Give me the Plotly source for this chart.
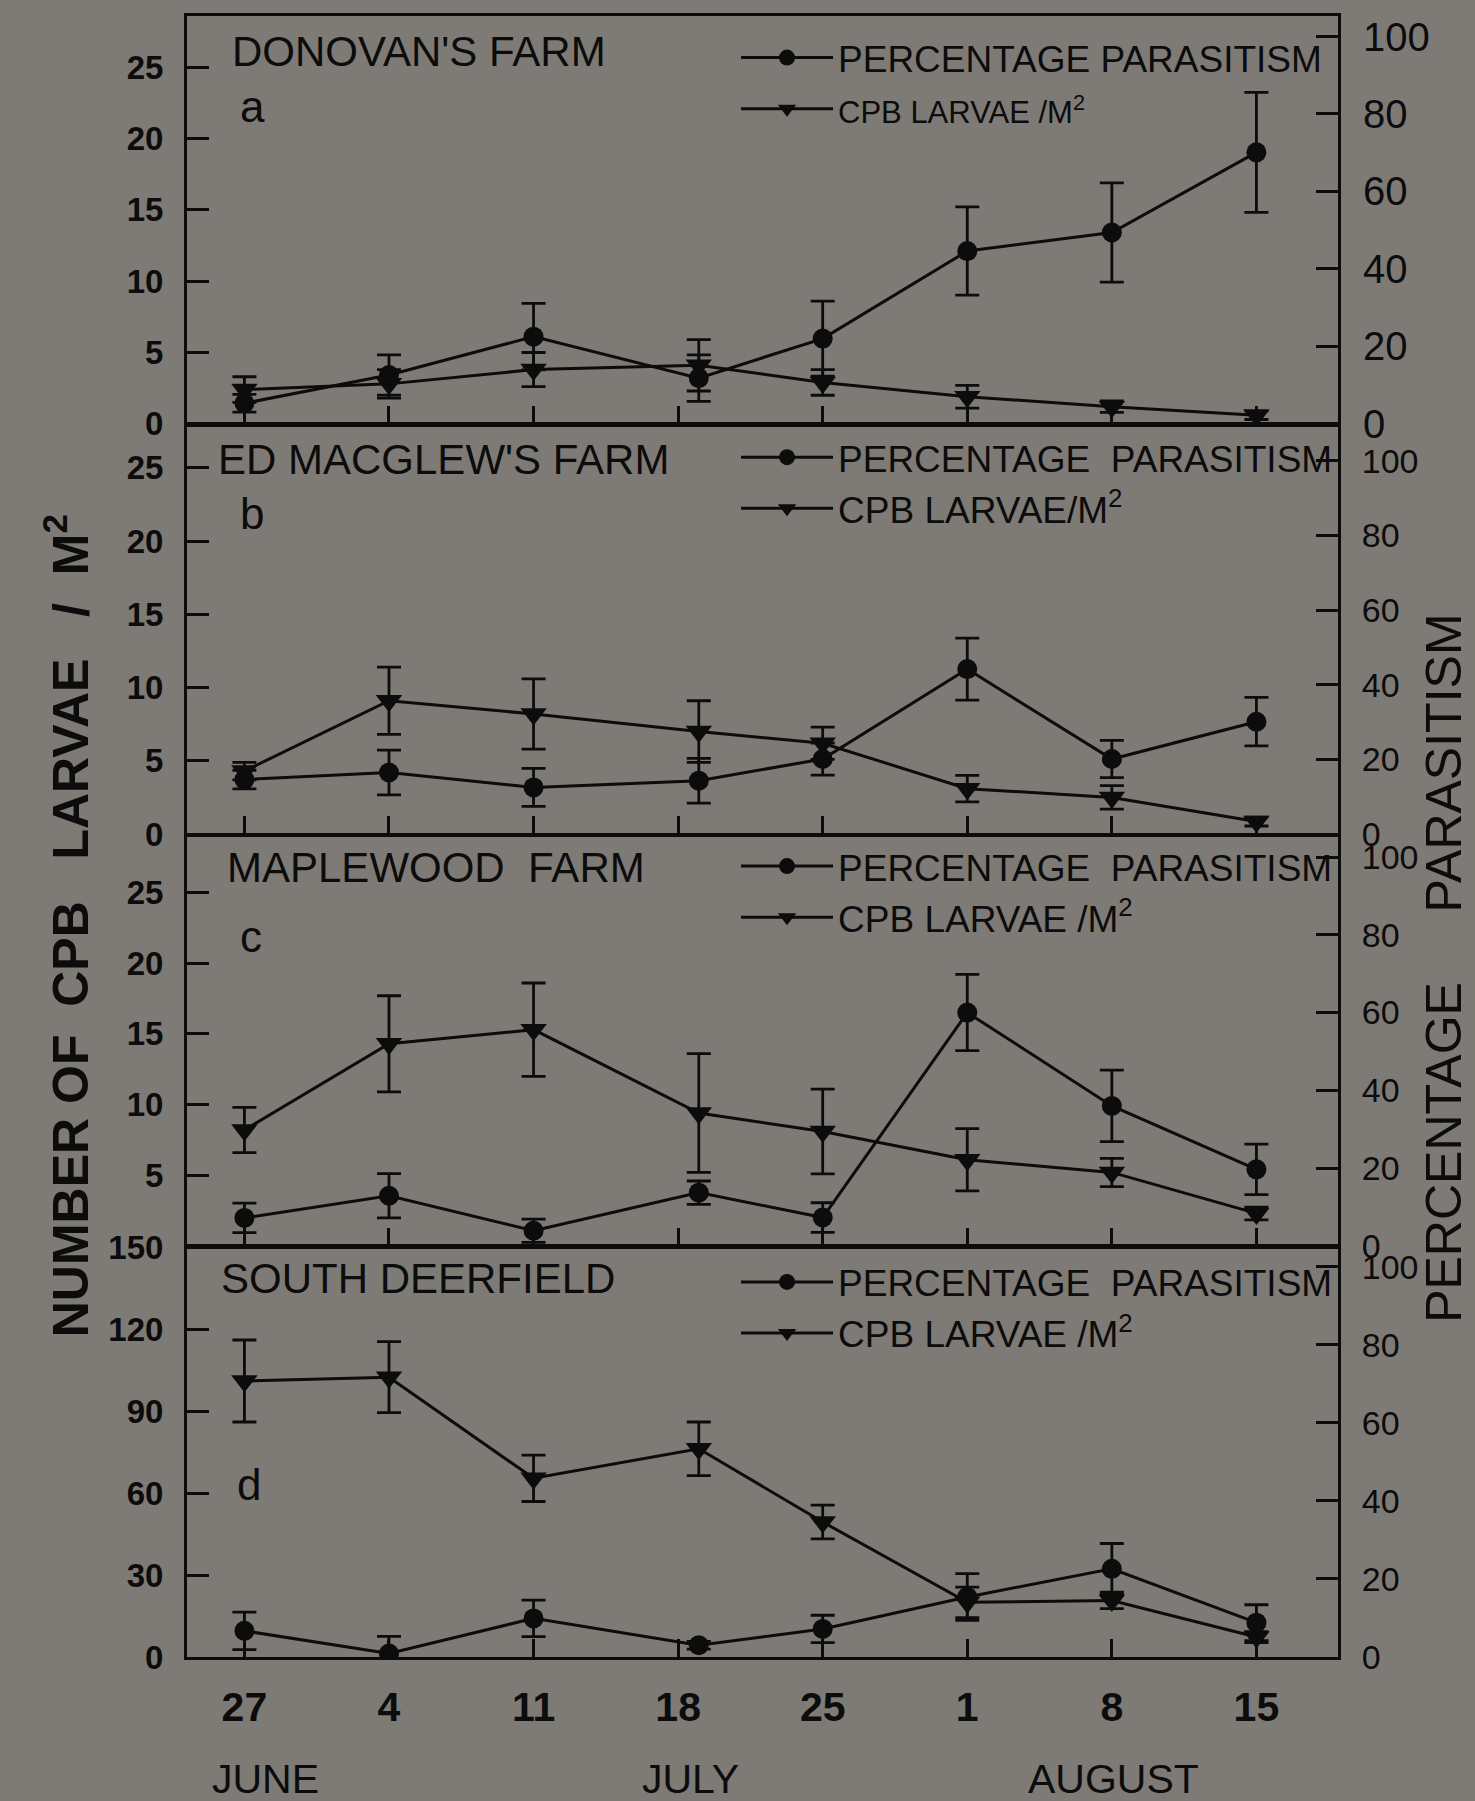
import plotly.graph_objects as go

# ---------------- data ----------------
sample_days = [0, 7, 14, 22, 28, 35, 42, 49]          # days after 27 June
tick_days = [0, 7, 14, 21, 28, 35, 42, 49]
tick_labels = ["27", "4", "11", "18", "25", "1", "8", "15"]
months = ["JUNE", "JULY", "AUGUST"]
month_days = [1.0, 21.6, 42.1]

farms = ["DONOVAN'S FARM", "ED MACGLEW'S FARM", "MAPLEWOOD\u00a0\u00a0FARM", "SOUTH DEERFIELD"]
letters = ["a", "b", "c", "d"]

# percentage parasitism (right axis)
a_pct = [5.3, 12.6, 22.5, 11.8, 22.0, 44.6, 49.4, 70.1]
a_pct_err = [2.3, 5.2, 8.6, 6.0, 9.7, 11.4, 12.8, 15.5]
b_pct = [14.6, 16.5, 12.5, 14.3, 20.1, 44.2, 20.1, 30.1]
b_pct_err = [2.5, 6.0, 5.1, 6.0, 4.3, 8.3, 5.0, 6.5]
c_pct = [7.2, 12.9, 3.9, 13.7, 7.3, 60.0, 36.0, 19.7]
c_pct_err = [3.8, 5.7, 3.0, 3.0, 3.8, 9.8, 9.2, 6.5]
d_pct = [6.7, 0.9, 9.9, 3.0, 7.2, 15.4, 22.6, 8.8]
d_pct_err = [4.8, 4.4, 4.7, 1.0, 3.5, 6.0, 6.5, 4.6]

# CPB larvae per m2 (left axis)
a_larvae = [2.4, 2.8, 3.8, 4.1, 2.9, 1.9, 1.2, 0.6]
a_larvae_err = [0.9, 1.0, 1.2, 1.8, 0.9, 0.8, 0.4, 0.3]
b_larvae = [4.3, 9.1, 8.2, 7.0, 6.2, 3.1, 2.5, 0.85]
b_larvae_err = [0.6, 2.3, 2.4, 2.1, 1.1, 0.9, 0.8, 0.3]
c_larvae = [8.2, 14.3, 15.3, 9.4, 8.1, 6.1, 5.2, 2.3]
c_larvae_err = [1.6, 3.4, 3.3, 4.2, 3.0, 2.2, 1.0, 0.45]
d_larvae = [101.0, 102.4, 65.4, 76.2, 49.4, 20.0, 20.7, 7.3]
d_larvae_err = [15.0, 13.0, 8.5, 9.8, 6.2, 5.6, 3.0, 2.0]

left_ranges = [[0, 28.6], [0, 27.9], [0, 29.0], [0, 150]]
left_ticks = [[0, 5, 10, 15, 20, 25], [0, 5, 10, 15, 20, 25], [5, 10, 15, 20, 25],
              [0, 30, 60, 90, 120, 150]]
right_ranges = [[0, 105.3], [0, 109.5], [0, 105.4], [0, 105.1]]
right_ticks = [0, 20, 40, 60, 80, 100]

pct_names = ["PERCENTAGE PARASITISM", "PERCENTAGE\u00a0\u00a0PARASITISM",
             "PERCENTAGE\u00a0\u00a0PARASITISM", "PERCENTAGE\u00a0\u00a0PARASITISM"]
larvae_names = ["<span style='font-size:31px'>CPB LARVAE /M<sup>2</sup></span>",
                "CPB LARVAE/M<sup>2</sup>",
                "CPB LARVAE /M<sup>2</sup>", "CPB LARVAE /M<sup>2</sup>"]

# ---------------- style ----------------
BG = "#7e7b77"
INK = "#0c0c0c"
FONT = "Liberation Sans, Arial, sans-serif"
domains = [[0.7515, 1.0], [0.5015, 0.7505], [0.2505, 0.5003], [0.0, 0.2498]]
legend_pos = [(0.477, 0.9933), (0.477, 0.7498), (0.477, 0.5006), (0.477, 0.2472)]
title_pos = [(0.0372, 0.9782), (0.0252, 0.7297), (0.033, 0.4812), (0.0281, 0.2306)]
letter_pos = [(0.0441, 0.9447), (0.0441, 0.6968), (0.0441, 0.4392), (0.0421, 0.1052)]

pcts = [a_pct, b_pct, c_pct, d_pct]
pct_errs = [a_pct_err, b_pct_err, c_pct_err, d_pct_err]
larvae = [a_larvae, b_larvae, c_larvae, d_larvae]
larvae_errs = [a_larvae_err, b_larvae_err, c_larvae_err, d_larvae_err]

fig = go.Figure()
layout = dict(
    width=1475, height=1801,
    margin=dict(l=187, r=137, t=16, b=144, autoexpand=False),
    paper_bgcolor=BG, plot_bgcolor=BG,
    font=dict(family=FONT, color=INK),
    showlegend=True,
)

annotations = []
for i in range(4):
    n = i + 1
    xname = "x" if n == 1 else f"x{n}"
    yl = 2 * i + 1
    yr = 2 * i + 2
    ylname = "y" if yl == 1 else f"y{yl}"
    yrname = f"y{yr}"
    legname = "legend" if n == 1 else f"legend{n}"

    fig.add_trace(go.Scatter(
        x=sample_days, y=pcts[i], xaxis=xname, yaxis=yrname,
        name=pct_names[i], legend=legname, mode="lines+markers",
        line=dict(color=INK, width=3),
        marker=dict(symbol="circle", size=20, color=INK),
        error_y=dict(type="data", array=pct_errs[i], visible=True,
                     color=INK, thickness=2.8, width=12),
    ))
    fig.add_trace(go.Scatter(
        x=sample_days, y=larvae[i], xaxis=xname, yaxis=ylname,
        name=larvae_names[i], legend=legname, mode="lines+markers",
        line=dict(color=INK, width=3),
        marker=dict(symbol="triangle-down", size=23, color=INK),
        error_y=dict(type="data", array=larvae_errs[i], visible=True,
                     color=INK, thickness=2.8, width=12),
    ))

    xkey = "xaxis" if n == 1 else f"xaxis{n}"
    ylkey = "yaxis" if yl == 1 else f"yaxis{yl}"
    yrkey = f"yaxis{yr}"
    layout[xkey] = dict(
        domain=[0, 1], anchor=ylname, range=[-2.78, 52.95],
        showline=True, mirror=True, linecolor=INK, linewidth=3,
        ticks="inside", ticklen=18, tickwidth=2.5, tickcolor=INK,
        tickvals=tick_days, ticktext=tick_labels,
        showticklabels=(n == 4), showgrid=False, zeroline=False,
        tickfont=dict(size=41, family=FONT, color=INK, weight="bold"),
        ticklabelstandoff=12,
    )
    layout[ylkey] = dict(
        domain=domains[i], anchor=xname, range=left_ranges[i],
        showline=True, linecolor=INK, linewidth=3,
        ticks="inside", ticklen=22, tickwidth=2.8, tickcolor=INK,
        tickvals=left_ticks[i], showgrid=False, zeroline=False,
        tickfont=dict(size=33, family=FONT, color=INK, weight="bold"),
        ticklabelstandoff=14,
    )
    layout[yrkey] = dict(
        overlaying=ylname, side="right", anchor=xname, range=right_ranges[i],
        showline=True, linecolor=INK, linewidth=3,
        ticks="inside", ticklen=22, tickwidth=2.8, tickcolor=INK,
        tickvals=right_ticks, showgrid=False, zeroline=False,
        tickfont=dict(size=(40 if n == 1 else 34), family=FONT, color=INK),
        ticklabelstandoff=14,
    )
    layout[legname] = dict(
        x=legend_pos[i][0], y=legend_pos[i][1], xanchor="left", yanchor="top",
        xref="paper", yref="paper", bgcolor="rgba(0,0,0,0)",
        font=dict(size=37, family=FONT, color=INK),
        itemwidth=92, tracegroupgap=0, traceorder="normal",
    )
    annotations.append(dict(
        text=farms[i], x=title_pos[i][0], y=title_pos[i][1], xref="paper", yref="paper",
        xanchor="left", yanchor="middle", showarrow=False,
        font=dict(size=42, family=FONT, color=INK),
    ))
    annotations.append(dict(
        text=letters[i], x=letter_pos[i][0], y=letter_pos[i][1], xref="paper", yref="paper",
        xanchor="left", yanchor="middle", showarrow=False,
        font=dict(size=44, family=FONT, color=INK),
    ))

for m, d in zip(months, month_days):
    annotations.append(dict(
        text=m, x=d, y=-0.0743, xref="x4", yref="paper", xanchor="center", yanchor="middle",
        showarrow=False, font=dict(size=41, family=FONT, color=INK),
    ))

annotations.append(dict(
    text="NUMBER\u00a0OF\u00a0\u00a0CPB\u00a0\u00a0\u00a0LARVAE\u00a0\u00a0\u00a0/\u00a0\u00a0M<sup>2</sup>",
    x=-0.1045, y=0.4457, xref="paper", yref="paper", textangle=-90,
    xanchor="center", yanchor="middle", showarrow=False,
    font=dict(size=50, family=FONT, color=INK, weight="bold"),
))
annotations.append(dict(
    text="PERCENTAGE\u00a0\u00a0\u00a0\u00a0\u00a0PARASITISM",
    x=1.092, y=0.4199, xref="paper", yref="paper", textangle=-90,
    xanchor="center", yanchor="middle", showarrow=False,
    font=dict(size=50, family=FONT, color=INK),
))
layout["annotations"] = annotations
fig.update_layout(**layout)
fig.write_html("out.html")
